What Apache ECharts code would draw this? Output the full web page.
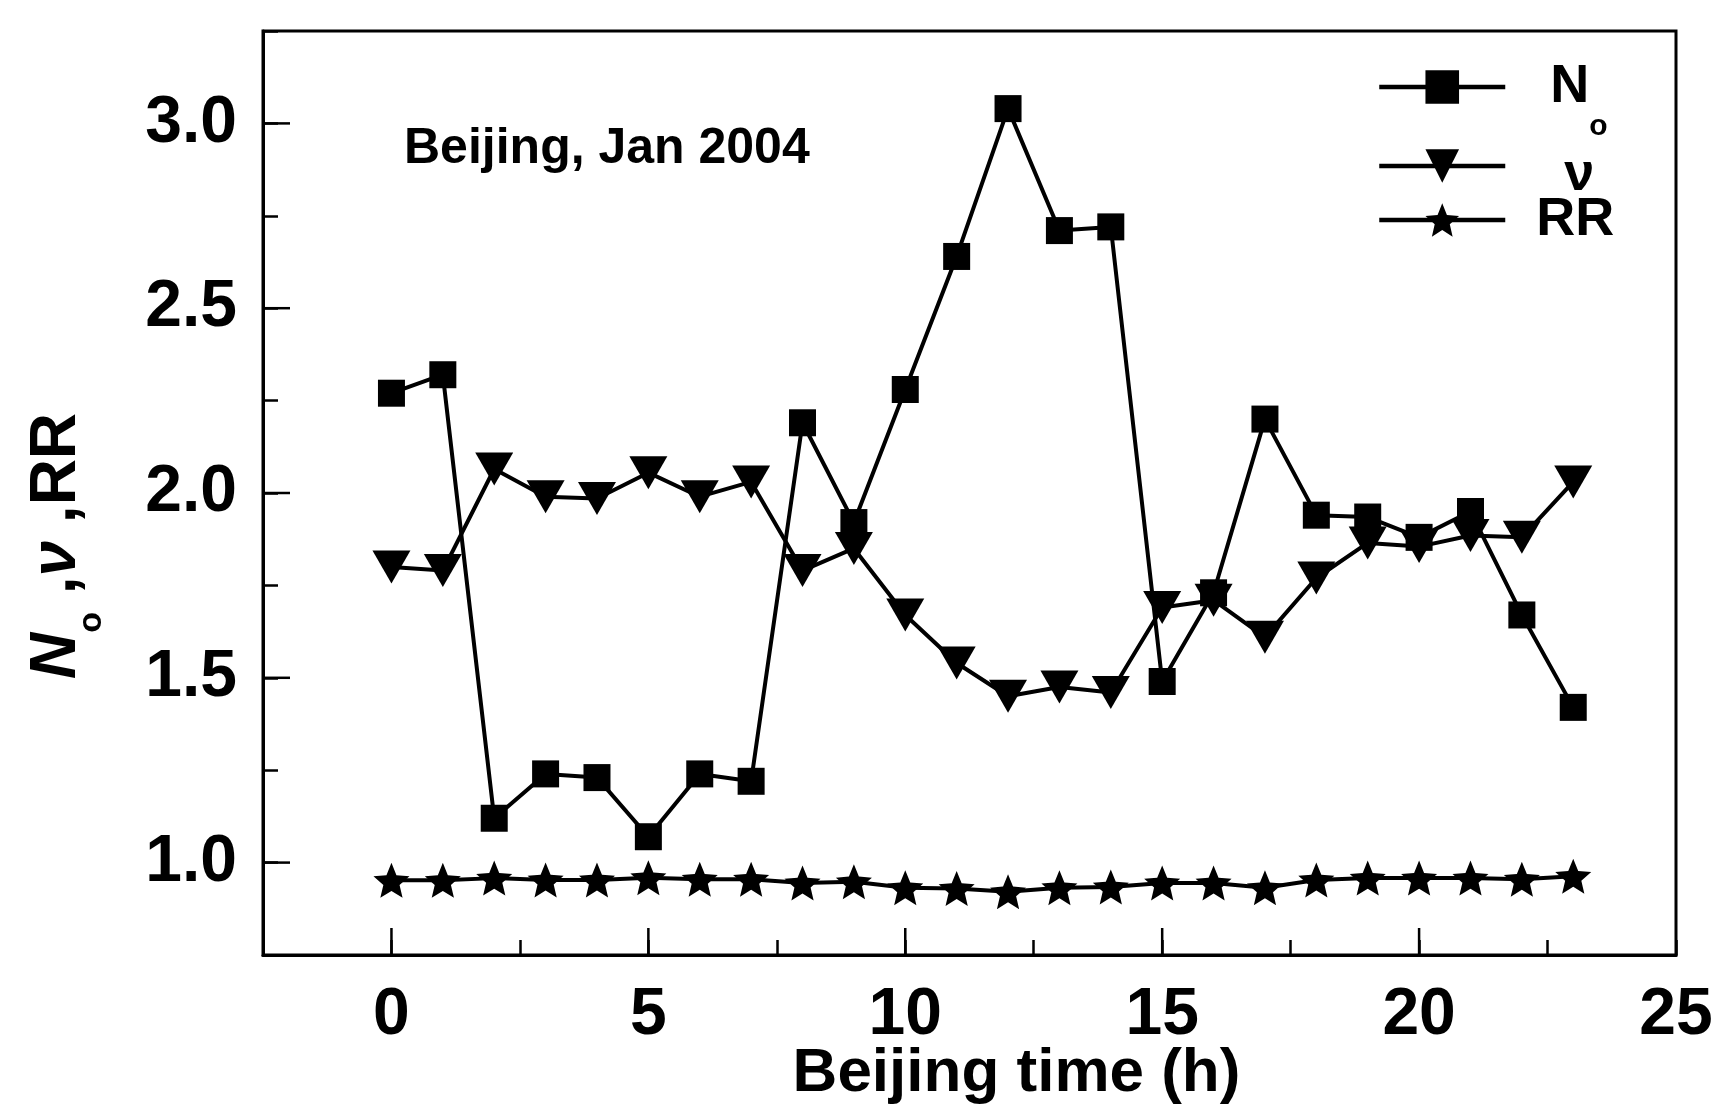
<!DOCTYPE html>
<html>
<head>
<meta charset="utf-8">
<script src="https://cdn.jsdelivr.net/npm/echarts@6/dist/echarts.min.js"></script>
<style>html,body{margin:0;padding:0;background:#fff}#c{width:1711px;height:1114px}</style>
</head>
<body>
<div id="c"></div>
<script>
// ---- data ----
const hours = [0,1,2,3,4,5,6,7,8,9,10,11,12,13,14,15,16,17,18,19,20,21,22,23];
const No = [2.27,2.32,1.12,1.24,1.23,1.07,1.24,1.22,2.19,1.92,2.28,2.64,3.04,2.71,2.72,1.49,1.73,2.20,1.94,1.935,1.88,1.95,1.67,1.42];
const nu = [1.80,1.79,2.065,1.99,1.985,2.055,1.99,2.03,1.79,1.85,1.67,1.54,1.45,1.475,1.46,1.69,1.71,1.61,1.77,1.865,1.855,1.885,1.88,2.03];
const RR = [0.952,0.952,0.958,0.953,0.953,0.959,0.955,0.955,0.945,0.948,0.932,0.930,0.921,0.932,0.934,0.945,0.945,0.932,0.953,0.958,0.958,0.958,0.955,0.963];
const xMajorTicks = [0,5,10,15,20];
const yMajorTicks = [1.0,1.5,2.0,2.5,3.0];
const X_MIN = -2.5, X_MAX = 25, X_STEP = 2.5;
const Y_MIN = 0.75, Y_MAX = 3.25, Y_STEP = 0.25;

const FONT = '"Liberation Sans", Arial, Helvetica, sans-serif';
const STAR = 'path://M50,0 L63.2,31.8 L97.6,34.5 L71.4,57 L79.4,90.5 L50,72.5 L20.6,90.5 L28.6,57 L2.4,34.5 L36.8,31.8 Z';
const TRI_DOWN = 'path://M0,0 L100,0 L50,87 Z';

const isMult = (v, m) => Math.abs(v / m - Math.round(v / m)) < 1e-6;
const zip = arr => hours.map((h, i) => [h, arr[i]]);

const chart = echarts.init(document.getElementById('c'), null, {renderer: 'canvas'});

const legendRich = {
  n: {fontSize: 54, fontWeight: 'bold', fontFamily: FONT, lineHeight: 110, color: '#000'},
  v: {fontSize: 54, fontWeight: 'bold', fontFamily: FONT, lineHeight: 110, padding: [18, 0, 0, 0], color: '#000'},
  s: {fontSize: 30, fontWeight: 'bold', fontFamily: FONT, lineHeight: 110, verticalAlign: 'bottom', color: '#000'}
};
function mkLegend(name, top, padLeft) {
  return {
    data: [name], orient: 'horizontal', left: 1377, top: top, padding: 0,
    itemWidth: 126, itemHeight: 42, selectedMode: false,
    lineStyle: {width: 4.5},
    formatter: n => n === 'No' ? '{n|N}{s|o}' : (n === 'nu' ? '{v|ν}' : '{n|RR}'),
    textStyle: {padding: [0, 0, 0, padLeft], rich: legendRich, color: '#000'}
  };
}

const tickStyle = {stroke: '#000', lineWidth: 2.5};

const option = {
  animation: false,
  backgroundColor: '#fff',
  title: {
    text: 'Beijing, Jan 2004', left: 404, top: 124, padding: 0,
    textStyle: {fontSize: 50, fontWeight: 'bold', fontFamily: FONT, color: '#000'}
  },
  legend: [mkLegend('No', 60, 40), mkLegend('nu', 130, 54), mkLegend('RR', 193, 26)],
  grid: {
    left: 263, right: 35, top: 31, bottom: 159, show: true, borderColor: '#000', borderWidth: 3,
    containLabel: false, outerBoundsMode: 'none'
  },
  xAxis: {
    type: 'value', min: X_MIN, max: X_MAX, interval: X_STEP, position: 'bottom',
    axisLine: {show: true, onZero: false, lineStyle: {color: '#000', width: 3}},
    axisTick: {show: true, inside: true, length: 15, lineStyle: {color: '#000', width: 2.5}},
    splitLine: {show: false},
    axisLabel: {
      margin: 28, fontSize: 66, fontWeight: 'bold', fontFamily: FONT, color: '#000',
      showMinLabel: true, showMaxLabel: true, hideOverlap: false,
      formatter: v => (isMult(v, 5) && v >= 0) ? String(Math.round(v)) : ''
    },
    name: 'Beijing time (h)', nameLocation: 'middle', nameGap: 88, nameMoveOverlap: false,
    nameTextStyle: {fontSize: 62, fontWeight: 'bold', fontFamily: FONT, color: '#000', padding: [0, 0, 0, 94]}
  },
  yAxis: {
    type: 'value', min: Y_MIN, max: Y_MAX, interval: Y_STEP,
    axisLine: {show: true, onZero: false, lineStyle: {color: '#000', width: 3}},
    axisTick: {show: true, inside: true, length: 15, lineStyle: {color: '#000', width: 2.5}},
    splitLine: {show: false},
    axisLabel: {
      margin: 26, fontSize: 66, fontWeight: 'bold', fontFamily: FONT, color: '#000',
      showMinLabel: true, showMaxLabel: true, padding: [0, 0, 10, 0], hideOverlap: false,
      formatter: v => (isMult(v, 0.5) && v >= 0.99 && v <= 3.01) ? v.toFixed(1) : ''
    },
    name: '{i|N}{s|o}{n| ,}{i|ν}{n| ,RR}', nameLocation: 'middle', nameGap: 153, nameRotate: 90,
    nameMoveOverlap: false,
    nameTextStyle: {
      padding: [0, 106, 0, 0],
      rich: {
        i: {fontSize: 64, fontStyle: 'italic', fontWeight: 'bold', fontFamily: FONT, lineHeight: 106, color: '#000'},
        n: {fontSize: 64, fontWeight: 'bold', fontFamily: FONT, lineHeight: 106, color: '#000'},
        s: {fontSize: 34, fontWeight: 'bold', fontFamily: FONT, lineHeight: 34, padding: [70, 0, 0, 0], color: '#000'}
      }
    }
  },
  series: [
    {
      name: 'No', type: 'line', data: zip(No), symbol: 'rect', symbolSize: 27,
      lineStyle: {color: '#000', width: 4}, itemStyle: {color: '#000'}, z: 3
    },
    {
      name: 'nu', type: 'line', data: zip(nu), symbol: TRI_DOWN, symbolSize: [38, 33],
      lineStyle: {color: '#000', width: 4}, itemStyle: {color: '#000'}, z: 2
    },
    {
      name: 'RR', type: 'line', data: zip(RR), symbol: STAR, symbolSize: [36, 35],
      lineStyle: {color: '#000', width: 4}, itemStyle: {color: '#000'}, z: 2
    },
    {
      type: 'custom', coordinateSystem: 'cartesian2d', silent: true, clip: false,
      data: xMajorTicks.map(v => [v, Y_MIN]),
      renderItem: (p, api) => {
        const pt = api.coord([api.value(0), api.value(1)]);
        return {type: 'line', shape: {x1: pt[0], y1: pt[1], x2: pt[0], y2: pt[1] - 27}, style: tickStyle};
      }
    },
    {
      type: 'custom', coordinateSystem: 'cartesian2d', silent: true, clip: false,
      data: yMajorTicks.map(v => [X_MIN, v]),
      renderItem: (p, api) => {
        const pt = api.coord([api.value(0), api.value(1)]);
        return {type: 'line', shape: {x1: pt[0], y1: pt[1], x2: pt[0] + 27, y2: pt[1]}, style: tickStyle};
      }
    }
  ]
};
chart.setOption(option);
</script>
</body>
</html>
